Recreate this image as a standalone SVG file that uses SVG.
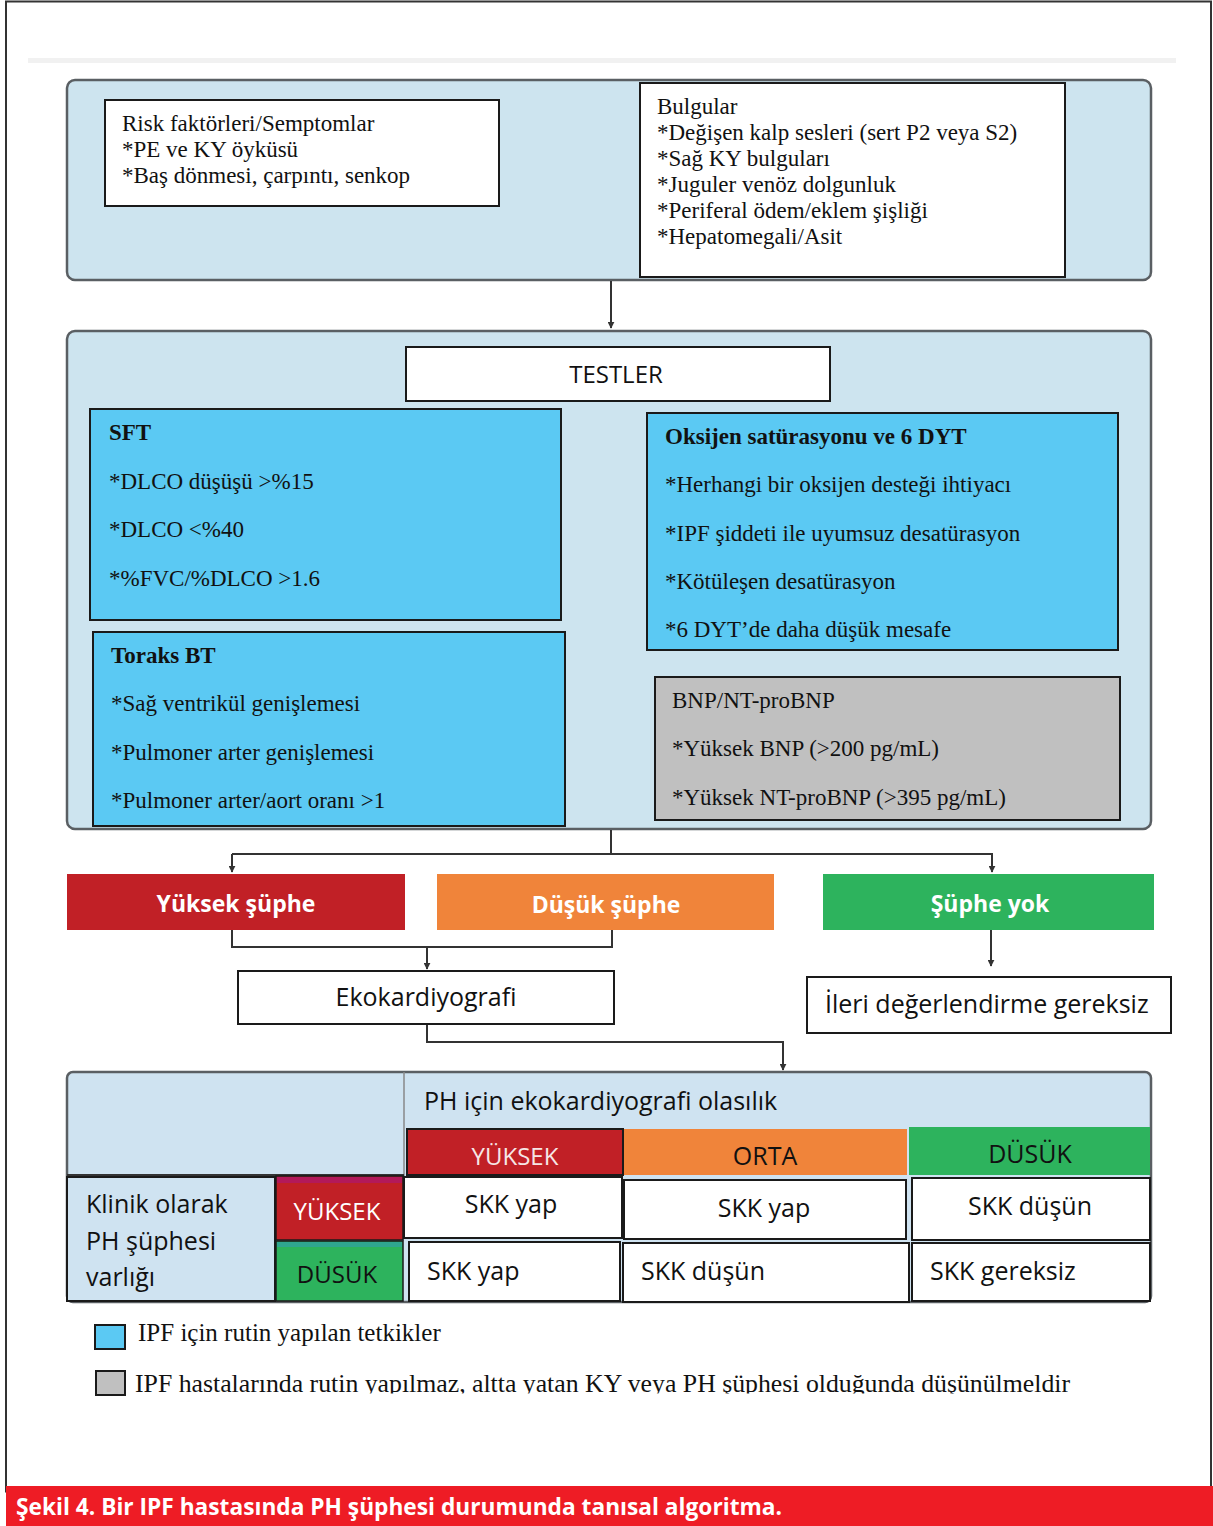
<svg xmlns="http://www.w3.org/2000/svg" width="1213" height="1526" viewBox="0 0 1213 1526">
<defs>
<marker id="arr" viewBox="0 0 10 10" refX="9" refY="5" markerWidth="7" markerHeight="7" orient="auto" markerUnits="userSpaceOnUse">
<path d="M0,0 L10,5 L0,10 z" fill="#333"/>
</marker>
<clipPath id="legclip"><rect x="0" y="1360" width="1213" height="33.5"/></clipPath>
</defs>
<style>
.panel{fill:#cde4ef;stroke:#5a5f63;stroke-width:2.5}
.wbox{fill:#fff;stroke:#1a1a1a;stroke-width:2}
.cyan{fill:#5bc9f3;stroke:#1a1a1a;stroke-width:2}
.gray{fill:#c0c0c0;stroke:#1a1a1a;stroke-width:2}
.serif{font-family:"Liberation Serif","Times New Roman",serif;font-size:23px;fill:#111}
.bold{font-weight:bold}
.sans{font-family:"Open Sans","Noto Sans","Liberation Sans",sans-serif;font-size:25px;fill:#111}
.s24{font-size:24px}
.s23{font-size:23px}
.wt{fill:#fff;font-weight:bold}
.conn{fill:none;stroke:#333;stroke-width:2}
.cell{fill:#fff;stroke:#1a1a1a;stroke-width:2}
</style>
<rect x="0" y="0" width="1213" height="1526" fill="#fff"/>
<rect x="6" y="1.5" width="1205" height="1490" fill="none" stroke="#333" stroke-width="2"/>
<rect x="28" y="58" width="1148" height="5" fill="#f1f1f1"/>

<g id="panel-top">
<rect class="panel" x="67" y="80" width="1084" height="200" rx="8"/>
</g>
<g id="risk">
<rect class="wbox" x="105" y="100" width="394" height="106"/>
<text class="serif" x="122" y="131">Risk faktörleri/Semptomlar</text>
<text class="serif" x="122" y="157">*PE ve KY öyküsü</text>
<text class="serif" x="122" y="183">*Baş dönmesi, çarpıntı, senkop</text>
</g>
<g id="bulgular">
<rect class="wbox" x="640" y="83" width="425" height="194"/>
<text class="serif" x="657" y="114">Bulgular</text>
<text class="serif" x="657" y="140">*Değişen kalp sesleri (sert P2 veya S2)</text>
<text class="serif" x="657" y="166">*Sağ KY bulguları</text>
<text class="serif" x="657" y="192">*Juguler venöz dolgunluk</text>
<text class="serif" x="657" y="218">*Periferal ödem/eklem şişliği</text>
<text class="serif" x="657" y="244">*Hepatomegali/Asit</text>
</g>

<g id="panel-tests">
<rect class="panel" x="67" y="331" width="1084" height="498" rx="8"/>
</g>
<g id="testler">
<rect class="wbox" x="406" y="347" width="424" height="54"/>
<text class="sans s24" x="616" y="383" text-anchor="middle">TESTLER</text>
</g>
<g id="sft">
<rect class="cyan" x="90" y="409" width="471" height="211"/>
<text class="serif bold" x="109" y="440">SFT</text>
<text class="serif" x="109" y="489">*DLCO düşüşü &gt;%15</text>
<text class="serif" x="109" y="537">*DLCO &lt;%40</text>
<text class="serif" x="109" y="586">*%FVC/%DLCO &gt;1.6</text>
</g>
<g id="oksijen">
<rect class="cyan" x="647" y="413" width="471" height="237"/>
<text class="serif bold" x="665" y="444">Oksijen satürasyonu ve 6 DYT</text>
<text class="serif" x="665" y="492">*Herhangi bir oksijen desteği ihtiyacı</text>
<text class="serif" x="665" y="541">*IPF şiddeti ile uyumsuz desatürasyon</text>
<text class="serif" x="665" y="589">*Kötüleşen desatürasyon</text>
<text class="serif" x="665" y="637">*6 DYT’de daha düşük mesafe</text>
</g>
<g id="toraks">
<rect class="cyan" x="93" y="632" width="472" height="194"/>
<text class="serif bold" x="111" y="663">Toraks BT</text>
<text class="serif" x="111" y="711">*Sağ ventrikül genişlemesi</text>
<text class="serif" x="111" y="760">*Pulmoner arter genişlemesi</text>
<text class="serif" x="111" y="808">*Pulmoner arter/aort oranı &gt;1</text>
</g>
<g id="bnp">
<rect class="gray" x="655" y="677" width="465" height="143"/>
<text class="serif" x="672" y="708">BNP/NT-proBNP</text>
<text class="serif" x="672" y="756">*Yüksek BNP (&gt;200 pg/mL)</text>
<text class="serif" x="672" y="805">*Yüksek NT-proBNP (&gt;395 pg/mL)</text>
</g>

<g id="connectors">
<line class="conn" x1="611" y1="281" x2="611" y2="328" marker-end="url(#arr)"/>
<polyline class="conn" points="611,830 611,854"/>
<polyline class="conn" points="232,854 992,854 992,872" marker-end="url(#arr)"/>
<path class="conn" d="M232,854 L232,872" marker-end="url(#arr)"/>
<polyline class="conn" points="232,930 232,947 612,947 612,930"/>
<line class="conn" x1="427" y1="947" x2="427" y2="969" marker-end="url(#arr)"/>
<line class="conn" x1="991" y1="930" x2="991" y2="966" marker-end="url(#arr)"/>
<polyline class="conn" points="427,1024 427,1042 783,1042 783,1070" marker-end="url(#arr)"/>
</g>

<g id="yuksek-suphe">
<rect x="67" y="874" width="338" height="56" fill="#c12026"/>
<text class="sans s23 wt" x="236" y="912" text-anchor="middle">Yüksek şüphe</text>
</g>
<g id="dusuk-suphe">
<rect x="437" y="874" width="337" height="56" fill="#f0843a"/>
<text class="sans s23 wt" x="606" y="913" text-anchor="middle">Düşük şüphe</text>
</g>
<g id="suphe-yok">
<rect x="823" y="874" width="331" height="56" fill="#2db35d"/>
<text class="sans s23 wt" x="990" y="912" text-anchor="middle">Şüphe yok</text>
</g>
<g id="eko">
<rect class="wbox" x="238" y="971" width="376" height="53"/>
<text class="sans" x="426" y="1006" text-anchor="middle">Ekokardiyografi</text>
</g>
<g id="ileri">
<rect class="wbox" x="807" y="977" width="364" height="56"/>
<text class="sans" x="825" y="1013">İleri değerlendirme gereksiz</text>
</g>

<g id="table">
<rect x="67" y="1072" width="1084" height="230" rx="6" fill="#cfe3f1" stroke="#5a5f63" stroke-width="2.5"/>
<line x1="404" y1="1072" x2="404" y2="1176" stroke="#888" stroke-width="1.5"/>
<line x1="67" y1="1175" x2="404" y2="1175" stroke="#333" stroke-width="2"/>
<text class="sans" x="424" y="1110">PH için ekokardiyografi olasılık</text>
</g>
<g id="h-yuksek">
<rect x="407" y="1129" width="216" height="46" fill="#c12026" stroke="#1a1a1a" stroke-width="2"/>
<text class="sans s24" x="515" y="1165" text-anchor="middle" style="fill:#f6e6e6">YÜKSEK</text>
</g>
<g id="h-orta">
<rect x="624" y="1129" width="283" height="46" fill="#f0843a"/>
<text class="sans" x="765" y="1165" text-anchor="middle">ORTA</text>
</g>
<g id="h-dusuk">
<rect x="909" y="1127" width="241" height="48" fill="#2db35d"/>
<text class="sans" x="1030" y="1163" text-anchor="middle">DÜSÜK</text>
</g>
<g id="klinik">
<rect x="67" y="1177" width="208" height="124" fill="#cfe3f1" stroke="#1a1a1a" stroke-width="2"/>
<text class="sans" x="86" y="1213">Klinik olarak</text>
<text class="sans" x="86" y="1250">PH şüphesi</text>
<text class="sans" x="86" y="1286">varlığı</text>
</g>
<g id="r-yuksek">
<rect x="276" y="1176" width="127" height="64" fill="#c12026" stroke="#1a1a1a" stroke-width="1.5"/>
<rect x="277" y="1177" width="125" height="6" fill="#b3195a"/>
<text class="sans s24" x="337" y="1220" text-anchor="middle" style="fill:#fff">YÜKSEK</text>
</g>
<g id="r-dusuk">
<rect x="276" y="1241" width="127" height="60" fill="#2db35d" stroke="#1a1a1a" stroke-width="1.5"/>
<rect x="277" y="1242" width="125" height="5" fill="#2fa68f"/>
<text class="sans s24" x="337" y="1283" text-anchor="middle">DÜSÜK</text>
</g>
<g id="c11"><rect class="cell" x="404" y="1177" width="218" height="61"/><text class="sans" x="511" y="1213" text-anchor="middle">SKK yap</text></g>
<g id="c12"><rect class="cell" x="624" y="1180" width="282" height="59"/><text class="sans" x="764" y="1217" text-anchor="middle">SKK yap</text></g>
<g id="c13"><rect class="cell" x="912" y="1178" width="238" height="62"/><text class="sans" x="1030" y="1215" text-anchor="middle">SKK düşün</text></g>
<g id="c21"><rect class="cell" x="409" y="1242" width="211" height="59"/><text class="sans" x="427" y="1280">SKK yap</text></g>
<g id="c22"><rect class="cell" x="623" y="1243" width="286" height="59"/><text class="sans" x="641" y="1280">SKK düşün</text></g>
<g id="c23"><rect class="cell" x="912" y="1243" width="238" height="58"/><text class="sans" x="930" y="1280">SKK gereksiz</text></g>

<g id="legend">
<rect class="cyan" x="95" y="1325" width="30" height="24"/>
<text class="serif" x="138" y="1341" style="font-size:25px">IPF için rutin yapılan tetkikler</text>
<rect class="gray" x="96" y="1371" width="29" height="24"/>
<g clip-path="url(#legclip)">
<text class="serif" x="135" y="1392" style="font-size:26px" textLength="935" lengthAdjust="spacingAndGlyphs">IPF hastalarında rutin yapılmaz, altta yatan KY veya PH şüphesi olduğunda düşünülmeldir</text>
</g>
</g>

<g id="caption">
<rect x="6" y="1486" width="1207" height="40" fill="#ee1c25"/>
<text x="16" y="1515" font-family="'Open Sans','Noto Sans','Liberation Sans',sans-serif" font-weight="bold" font-size="23" fill="#fff" textLength="766" lengthAdjust="spacingAndGlyphs">Şekil 4. Bir IPF hastasında PH şüphesi durumunda tanısal algoritma.</text>
</g>
</svg>
